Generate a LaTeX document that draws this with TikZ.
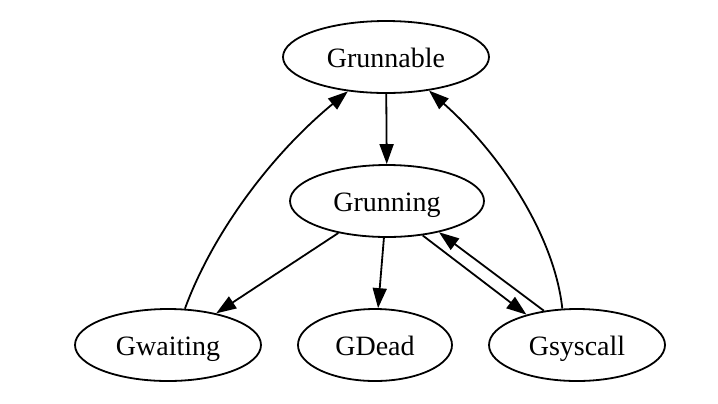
\documentclass[tikz,border=0pt]{standalone}
\usepackage{fontspec}
\setmainfont{Liberation Serif}
\usepackage{tikz}
\usetikzlibrary{shapes,arrows.meta}

\begin{document}
\begin{tikzpicture}[
	%	style def
    x=0.5pt, y=-0.5pt,
    state/.style={draw, ellipse, line width=0.9pt, inner sep=0pt, minimum height=36pt,
                  text height=10.6pt, text depth=0pt, font=\fontsize{14}{16}\selectfont},
    trans/.style={line width=0.9pt, -{Triangle[length=10pt,width=7pt]}}
    ]
	\useasboundingbox (0,0) rectangle (718,403);

	% states
	\node[state, minimum width=103pt] (runnable) at (386,57) {Grunnable};
	\node[state, minimum width=97pt] (running) at (387,201) {Grunning};
	\node[state, minimum width=93pt] (waiting) at (168,345) {Gwaiting};
	\node[state, minimum width=77pt] (dead) at (375,345) {GDead};
	\node[state, minimum width=88pt] (syscall) at (577,345) {Gsyscall};

	% straight transitions
	\draw[trans] (runnable) -- (running);
	\draw[trans] (running) -- (waiting);
	\draw[trans] (running) -- (dead);
	\draw[trans] (running.-44) -- (syscall.149);
	\draw[trans] (syscall.134) -- (running.-31);

	% back to runnable (curved)
	\draw[trans] (waiting.65) .. controls (210,240) and (265,160) .. (runnable.222);
	\draw[trans] (syscall.112) .. controls (555,240) and (505,158) .. (runnable.-38);
\end{tikzpicture}
\end{document}
